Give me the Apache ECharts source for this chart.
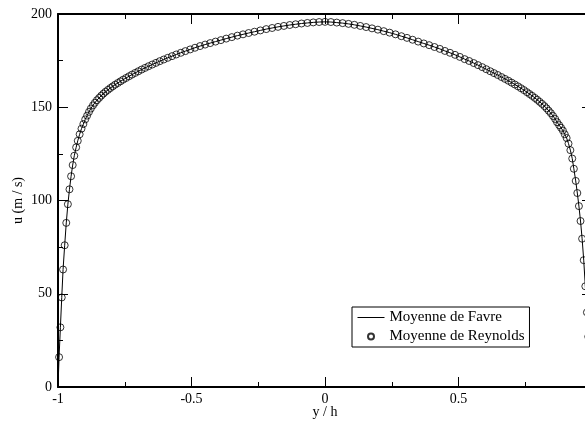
<!DOCTYPE html>
<html>
<head>
<meta charset="utf-8">
<script src="https://cdn.jsdelivr.net/npm/echarts@6/dist/echarts.min.js"></script>
<style>
  html, body { margin: 0; padding: 0; background: #fff; }
  #chart { width: 585px; height: 423px; }
</style>
</head>
<body>
<div id="chart"></div>
<script>
// y/h positions and mean velocity u (m/s)
var yhLeft = [-1, -0.996, -0.991, -0.986, -0.981, -0.975, -0.969, -0.963, -0.957, -0.951,
  -0.945, -0.939, -0.932, -0.926, -0.919, -0.912, -0.905, -0.898, -0.891, -0.884,
  -0.877, -0.869, -0.862, -0.854, -0.846, -0.838, -0.830, -0.822, -0.813, -0.804,
  -0.795, -0.786, -0.776, -0.766, -0.756, -0.745, -0.734, -0.723, -0.711, -0.699,
  -0.687, -0.674, -0.661, -0.647, -0.633, -0.619, -0.604, -0.589, -0.573, -0.557,
  -0.540, -0.523, -0.505, -0.487, -0.468, -0.449, -0.430, -0.410, -0.390, -0.370,
  -0.349, -0.328, -0.307, -0.286, -0.264, -0.242, -0.220, -0.198, -0.176, -0.154,
  -0.132, -0.110, -0.088, -0.066, -0.044, -0.022, 0];
var uLeft = [0, 16, 32, 48, 63, 76, 88, 98, 106, 113,
  119, 124, 128.5, 132, 135.5, 138.5, 141, 143.5, 145.5, 147.5,
  149.3, 151, 152.4, 153.8, 155, 156.2, 157.3, 158.3, 159.3, 160.3,
  161.2, 162.1, 163, 163.9, 164.8, 165.7, 166.6, 167.5, 168.4, 169.3,
  170.2, 171.1, 172, 172.9, 173.8, 174.7, 175.6, 176.5, 177.4, 178.3,
  179.2, 180.1, 181, 181.9, 182.8, 183.6, 184.4, 185.2, 186, 186.8,
  187.6, 188.4, 189.1, 189.8, 190.5, 191.2, 191.9, 192.5, 193.1, 193.6,
  194.1, 194.5, 194.9, 195.2, 195.5, 195.7, 195.8];

var yhRight = [0.022, 0.044, 0.066, 0.088, 0.110, 0.132, 0.154, 0.176, 0.198, 0.220,
  0.242, 0.264, 0.286, 0.307, 0.328, 0.349, 0.370, 0.390, 0.410, 0.430,
  0.449, 0.468, 0.487, 0.505, 0.523, 0.540, 0.557, 0.573, 0.589, 0.604,
  0.619, 0.633, 0.647, 0.661, 0.674, 0.687, 0.699, 0.711, 0.723, 0.734,
  0.745, 0.756, 0.766, 0.776, 0.786, 0.795, 0.804, 0.813, 0.822, 0.830,
  0.838, 0.846, 0.854, 0.862, 0.869, 0.877, 0.884, 0.891, 0.898, 0.905,
  0.912, 0.919, 0.926, 0.932, 0.939, 0.945, 0.951, 0.957, 0.963, 0.969,
  0.975, 0.981, 0.986, 0.991, 0.996, 1];
var uRight = [195.7, 195.4, 195.1, 194.7, 194.2, 193.6, 193.0, 192.3, 191.6, 190.8,
  190.0, 189.1, 188.1, 187.2, 186.2, 185.2, 184.2, 183.3, 182.3, 181.3,
  180.2, 179.2, 178.1, 177.0, 175.8, 174.8, 173.7, 172.6, 171.5, 170.4,
  169.3, 168.3, 167.3, 166.2, 165.2, 164.2, 163.2, 162.2, 161.2, 160.2,
  159.2, 158.1, 157.1, 156.1, 155.0, 154.0, 152.9, 151.8, 150.6, 149.4,
  148.1, 146.8, 145.3, 143.7, 142.0, 140.4, 139.0, 137.5, 135.5, 133.5,
  130.5, 127, 122.5, 117, 110.5, 104, 97, 89, 79.5, 68,
  54, 40, 27, 15, 6, 0];

var xTicks = ['-1', '-0.5', '0', '0.5', '1'];
var seriesNames = ['Moyenne de Favre', 'Moyenne de Reynolds'];

var yh = yhLeft.concat(yhRight);
var u = uLeft.concat(uRight);
var favre = yh.map(function (x, i) { return [x, u[i]]; });
// the wall points (u = 0) carry no marker
var reynolds = favre.slice(1, favre.length - 1);

var font = 'Liberation Serif';
var black = '#000';

function xAxisCfg(pos, labels) {
  return {
    type: 'value', position: pos, min: -1, max: 1, interval: 0.5,
    axisLine: { show: true, onZero: false, lineStyle: { color: black, width: 2 } },
    axisTick: { show: true, inside: true, length: 10, lineStyle: { color: black, width: 1 } },
    minorTick: { show: true, splitNumber: 2, length: 5, lineStyle: { color: black, width: 1 } },
    splitLine: { show: false },
    axisLabel: {
      show: labels, color: black, fontFamily: font, fontSize: 14, margin: 5,
      formatter: function (v) { return xTicks[Math.round((v + 1) * 2)]; }
    },
    name: labels ? 'y / h' : '', nameLocation: 'middle', nameGap: 18, nameMoveOverlap: false,
    nameTextStyle: { color: black, fontFamily: font, fontSize: 14 }
  };
}

function yAxisCfg(pos, labels) {
  return {
    type: 'value', position: pos, min: 0, max: 200, interval: 50,
    axisLine: { show: true, onZero: false, lineStyle: { color: black, width: 2 } },
    axisTick: { show: true, inside: true, length: 10, lineStyle: { color: black, width: 1 } },
    minorTick: { show: true, splitNumber: 2, length: 5, lineStyle: { color: black, width: 1 } },
    splitLine: { show: false },
    axisLabel: { show: labels, color: black, fontFamily: font, fontSize: 14, margin: 6 },
    name: labels ? 'u (m / s)' : '', nameLocation: 'middle', nameGap: 33, nameMoveOverlap: false,
    nameTextStyle: { color: black, fontFamily: font, fontSize: 14 }
  };
}

var chart = echarts.init(document.getElementById('chart'), null, { renderer: 'canvas' });
chart.setOption({
  backgroundColor: '#fff',
  animation: false,
  // the frame runs past the right edge of the window, as in the original
  grid: { left: 58, top: 14, width: 534, height: 373, containLabel: false, outerBoundsMode: 'none' },
  xAxis: [xAxisCfg('bottom', true), xAxisCfg('top', false)],
  yAxis: [yAxisCfg('left', true), yAxisCfg('right', false)],
  legend: {
    left: 352, top: 307, orient: 'vertical',
    backgroundColor: '#fff', borderColor: black, borderWidth: 1, borderRadius: 0,
    padding: [3, 5, 3, 5], itemGap: 4, itemWidth: 27, itemHeight: 6,
    textStyle: { color: black, fontFamily: font, fontSize: 15 },
    data: [
      { name: seriesNames[0], itemStyle: { opacity: 0 }, lineStyle: { width: 1 } },
      { name: seriesNames[1] }
    ]
  },
  series: [
    {
      name: seriesNames[0], type: 'line', data: favre,
      symbol: 'none', lineStyle: { color: black, width: 1 }, itemStyle: { color: black },
      clip: true, z: 2
    },
    {
      name: seriesNames[1], type: 'scatter', data: reynolds,
      symbol: 'circle', symbolSize: 7,
      itemStyle: { color: 'rgba(0,0,0,0)', borderColor: black, borderWidth: 1 },
      clip: true, z: 3
    }
  ]
});
</script>
</body>
</html>
